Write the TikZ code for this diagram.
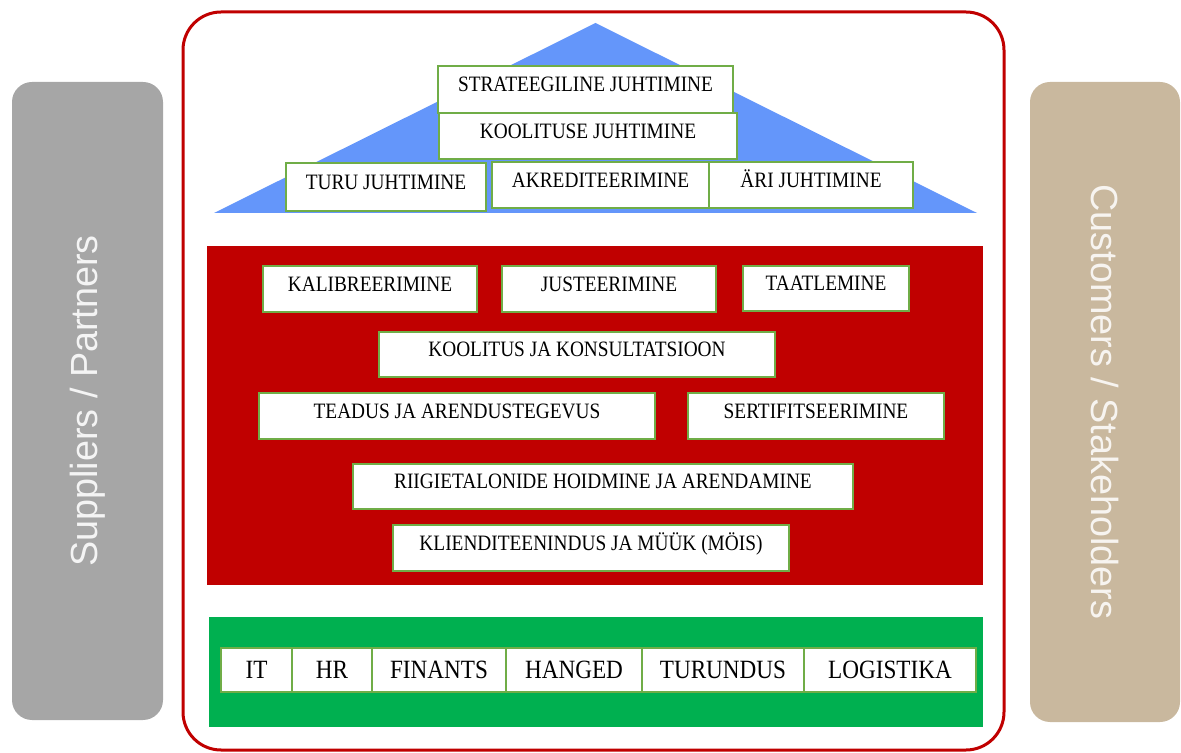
\documentclass[tikz,border=0pt]{standalone}
\usepackage{fontspec}
\setmainfont{Liberation Serif}
\newfontfamily\boxfont[FakeStretch=0.88]{Liberation Serif}
\newfontfamily\sidefont{Liberation Sans}
\usepackage{xcolor}
\usepackage{tikz}
\usetikzlibrary{positioning,calc}
\definecolor{framered}{RGB}{192,0,0}
\definecolor{roofblue}{RGB}{100,150,250}
\definecolor{basegreen}{RGB}{0,176,80}
\definecolor{boxgreen}{RGB}{112,173,71}
\definecolor{sidegray}{RGB}{166,166,166}
\definecolor{sidetan}{RGB}{201,184,158}
\newdimen\upx \upx=0.02cm
\tikzset{
  mbox/.style={draw=boxgreen,line width=1.4\upx,fill=white,inner sep=0pt,
    font=\boxfont\fontsize{12.5}{14}\selectfont,text height=0.7em,text depth=0.46em},
  cell/.style={draw=boxgreen,line width=1.4\upx,fill=white,inner sep=0pt,
    minimum height=44\upx,font=\boxfont\fontsize{15}{17}\selectfont},
  sidebar/.style={rounded corners=20\upx,inner sep=0pt,
    font=\sidefont\fontsize{21.5}{24}\selectfont},
}

\begin{document}
\begin{tikzpicture}[x=0.02cm,y=-0.02cm]
  \useasboundingbox (0,0) rectangle (1181,753);
  % kõrvalplokid
  \node[sidebar,fill=sidegray,text=white!88!sidegray,rotate=90,
    minimum width=638\upx,minimum height=151\upx] (supp) at (87.5,401) {Suppliers / Partners};
  \node[sidebar,fill=sidetan,text=white!85!sidetan,rotate=-90,
    minimum width=640\upx,minimum height=150\upx] (cust) at (1105,402) {Customers / Stakeholders};
  % raam
  \draw[framered,line width=3\upx,rounded corners=38\upx] (183,12) rectangle (1004,750);
  % katus
  \fill[roofblue] (214,213) -- (595.5,23) -- (977,213) -- cycle;
  \node[mbox,minimum width=295\upx,minimum height=47\upx] (strat) at (585.5,89.5) {STRATEEGILINE JUHTIMINE};
  \node[mbox,minimum width=298\upx,minimum height=46\upx] (kjuht) at (588,136) {KOOLITUSE JUHTIMINE};
  \node[mbox,minimum width=200\upx,minimum height=48\upx] (turu) at (386,187) {TURU JUHTIMINE};
  \node[mbox,minimum width=217\upx,minimum height=46\upx] (akred) at (600.5,185) {AKREDITEERIMINE};
  \node[mbox,minimum width=204\upx,minimum height=46\upx] (ari) at (811,185) {ÄRI JUHTIMINE};
  % põhitegevused
  \fill[framered] (207,246) rectangle (983,585);
  \node[mbox,minimum width=214\upx,minimum height=46\upx] (kalib) at (370,289) {KALIBREERIMINE};
  \node[mbox,minimum width=214\upx,minimum height=46\upx] (just) at (609,289) {JUSTEERIMINE};
  \node[mbox,minimum width=166\upx,minimum height=45\upx] (taat) at (826,288.5) {TAATLEMINE};
  \node[mbox,minimum width=396\upx,minimum height=45\upx] (koolk) at (577,354.5) {KOOLITUS JA KONSULTATSIOON};
  \node[mbox,minimum width=396\upx,minimum height=46\upx] (teadus) at (457,416) {TEADUS JA ARENDUSTEGEVUS};
  \node[mbox,minimum width=256\upx,minimum height=46\upx] (sert) at (816,416) {SERTIFITSEERIMINE};
  \node[mbox,minimum width=500\upx,minimum height=45\upx] (riigi) at (603,486.5) {RIIGIETALONIDE HOIDMINE JA ARENDAMINE};
  \node[mbox,minimum width=396\upx,minimum height=46\upx] (klient) at (591,548) {KLIENDITEENINDUS JA MÜÜK (MÖIS)};
  % tugiprotsessid
  \fill[basegreen] (209,617) rectangle (983,727);
  \foreach \a/\b/\t/\n in {221/292/IT/it,292/372/HR/hr,372/506/FINANTS/fin,
      506/642/HANGED/hang,642/804/TURUNDUS/tur,804/976/LOGISTIKA/log}{%
    \pgfmathsetmacro\w{\b-\a}\pgfmathsetmacro\c{(\a+\b)/2}
    \node[cell,minimum width=\w\upx] (\n) at (\c,670) {\t};}
\end{tikzpicture}
\end{document}
